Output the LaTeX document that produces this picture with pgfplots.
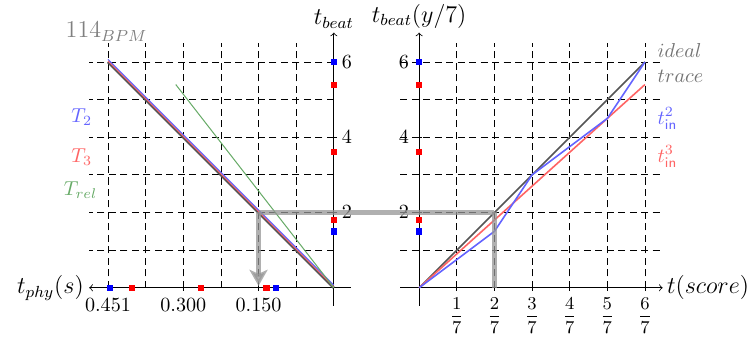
\documentclass[border=0pt]{standalone}
\usepackage{amsmath}
\usepackage{pgfplots}
\pgfplotsset{compat=1.18}
\usetikzlibrary{arrows.meta}
\definecolor{tblue}{RGB}{100,100,255}
\definecolor{tred}{RGB}{255,100,100}
\definecolor{tgreen}{RGB}{102,170,102}
\definecolor{tideal}{RGB}{85,85,85}
\definecolor{tbar}{RGB}{150,150,150}

\begin{document}
\begin{tikzpicture}
\pgfplotsset{
  beat/.style={
    x=18.7pt, y=18.7pt,
    axis lines=middle,
    axis line style={thin, -to},
    clip=false,
    ymin=-0.48, ymax=6.78,
    ytick={2,4,6},
    tick style={black, thin},
    major tick length=3pt,
    tick align=center,
  },
}
\tikzset{
  gridline/.style={black, thin, dash pattern=on 3.5pt off 2.2pt},
  guide/.style={tbar, line width=2.6pt, opacity=0.75},
}

% left: physical time against beats
\begin{axis}[beat, at={(0,0)}, anchor=origin, x dir=reverse,
  xmin=-0.45, xmax=6.5,
  xtick={2,4,6}, xticklabels={0.150,0.300,0.451},
  yticklabel style={anchor=west, xshift=2pt},
]
\pgfplotsinvokeforeach{1,2,3,4,5,6}{
  \draw[gridline] (axis cs:#1,0) -- (axis cs:#1,6.5);
  \draw[gridline] (axis cs:0,#1) -- (axis cs:6.5,#1);
}
\addplot[tideal, line width=1.3pt] coordinates {(6,6) (0,0)};
\addplot[tred, line width=0.5pt] coordinates {(6,6.03) (0,0.03)};
\addplot[tblue, line width=0.5pt] coordinates {(6,6.07) (0,0.07)};
\addplot[tgreen, line width=0.5pt] coordinates {(4.2,5.4) (0,0)};
\addplot[only marks, mark=square*, mark size=1.3pt, blue]
  coordinates {(0,6) (0,1.5) (5.94,0) (1.53,0)};
\addplot[only marks, mark=square*, mark size=1.3pt, red]
  coordinates {(0,5.4) (0,3.6) (0,1.8) (5.36,0) (3.54,0) (1.79,0)};
\coordinate (A) at (axis cs:2,2);
\draw[guide, -{Stealth[length=8pt, width=9pt, inset=2pt]}] (axis cs:2,2) -- (axis cs:2,0.05);
\node[black!50, font=\large] at (axis cs:6.04,6.8) {$114_{BPM}$};
\node[tblue] at (axis cs:6.7,4.54) {$T_2$};
\node[tred] at (axis cs:6.7,3.48) {$T_3$};
\node[tgreen] at (axis cs:6.73,2.59) {$T_{rel}$};
\node[anchor=east, inner sep=2.5pt, font=\large] at (axis cs:6.5,0) {$t_{phy}(s)$};
\node[anchor=south, inner sep=2pt, font=\large] at (axis cs:0,6.78) {$t_{beat}$};
\path (axis cs:8.87,0);
\end{axis}

% right: score time against beats
\begin{axis}[beat, at={(42.4pt,0)}, anchor=origin,
  xmin=-0.5, xmax=6.47,
  xtick={1,2,3,4,5,6},
  xticklabel style={font=\small},
  xticklabels={$\dfrac{1}{7}$,$\dfrac{2}{7}$,$\dfrac{3}{7}$,$\dfrac{4}{7}$,$\dfrac{5}{7}$,$\dfrac{6}{7}$},
]
\pgfplotsinvokeforeach{1,2,3,4,5,6}{
  \draw[gridline] (axis cs:#1,0) -- (axis cs:#1,6.5);
  \draw[gridline] (axis cs:-0.5,#1) -- (axis cs:6.5,#1);
}
\addplot[tideal, line width=0.8pt] coordinates {(0,0) (6,6)};
\addplot[tred, line width=0.8pt] coordinates {(0,0) (6,5.4)};
\addplot[tblue, line width=0.8pt] coordinates {(0,0) (2,1.5) (3,3) (5,4.5) (6,6)};
\addplot[only marks, mark=square*, mark size=1.3pt, blue]
  coordinates {(0,6) (0,1.5)};
\addplot[only marks, mark=square*, mark size=1.3pt, red]
  coordinates {(0,5.4) (0,3.6) (0,1.8)};
\coordinate (B) at (axis cs:2,2);
\draw[guide] (axis cs:2,2) -- (axis cs:2,0);
\node[black!55, anchor=west] at (axis cs:6.15,6.3) {$ideal$};
\node[black!55, anchor=west] at (axis cs:6.15,5.62) {$trace$};
\node[tblue, anchor=west] at (axis cs:6.15,4.49) {$t^2_{\mathsf{in}}$};
\node[tred, anchor=west] at (axis cs:6.15,3.48) {$t^3_{\mathsf{in}}$};
\node[anchor=west, inner sep=2pt, font=\large] at (axis cs:6.47,0) {$t(score)$};
\node[anchor=south, inner sep=2pt, font=\large] at (axis cs:0,6.78) {$t_{beat}(y/7)$};
\end{axis}
\draw[guide] (A) -- (B);
\end{tikzpicture}
\end{document}
